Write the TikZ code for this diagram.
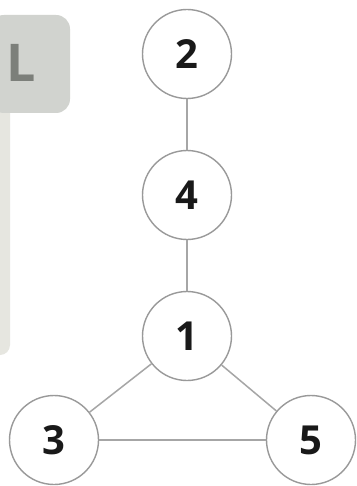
\documentclass[tikz,border=0pt]{standalone}
\usepackage{fontspec}
\setmainfont{Open Sans}
\definecolor{panel}{HTML}{E6E6E0}
\definecolor{tab}{HTML}{D1D3CF}
\definecolor{tabtext}{HTML}{7C7F7A}
\begin{document}
\begin{tikzpicture}[x=1pt,y=-1pt,
  vert/.style={circle,draw=black!40,line width=1.4pt,fill=white,minimum size=89pt,inner sep=0pt,font=\fontsize{40}{40}\selectfont\bfseries,text=black!90},
  edge/.style={draw=black!35,line width=1.5pt}]
\useasboundingbox (0,0) rectangle (356,486);
\fill[white] (0,0) rectangle (356,486);
% side panel
\fill[panel] (-10,100) [rounded corners=10pt] -- (10,100) -- (10,355) -- (-10,355) -- cycle;
\fill[tab] (-10,15) [rounded corners=14pt] -- (70,15) -- (70,113) -- (-10,113) -- cycle;
\node[font=\fontsize{52}{52}\selectfont\bfseries,text=tabtext,anchor=center] (L) at (21,63) {L};
% vertices
\node[vert] (n2) at (187,54) {2};
\node[vert] (n4) at (187,195) {4};
\node[vert] (n1) at (187,336) {1};
\node[vert] (n3) at (54,440) {3};
\node[vert] (n5) at (311,440) {5};
% edges
\draw[edge] (n2) -- (n4);
\draw[edge] (n4) -- (n1);
\draw[edge] (n1) -- (n3);
\draw[edge] (n1) -- (n5);
\draw[edge] (n3) -- (n5);
\end{tikzpicture}
\end{document}
